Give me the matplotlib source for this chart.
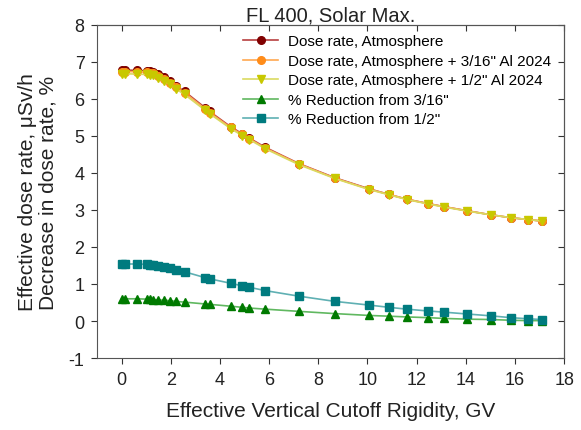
import matplotlib
matplotlib.use("Agg")
import matplotlib.pyplot as plt

plt.rcParams['font.family'] = ['Liberation Sans', 'DejaVu Sans']
plt.rcParams['axes.unicode_minus'] = False

rigidity = [0.0, 0.12, 0.62, 1.04, 1.15, 1.27, 1.5, 1.72, 1.97, 2.2, 2.56, 3.4, 3.58,
            4.43, 4.9, 5.2, 5.85, 7.22, 8.67, 10.07, 10.87, 11.6, 12.48, 13.1, 14.04,
            15.01, 15.84, 16.54, 17.09]
dose_atm = [6.78, 6.78, 6.77, 6.76, 6.75, 6.74, 6.66, 6.58, 6.48, 6.36, 6.20, 5.76, 5.66,
            5.25, 5.06, 4.94, 4.69, 4.25, 3.87, 3.57, 3.42, 3.29, 3.17, 3.09, 2.98,
            2.87, 2.79, 2.74, 2.70]
dose_316 = [6.74, 6.74, 6.73, 6.72, 6.71, 6.70, 6.62, 6.54, 6.44, 6.33, 6.17, 5.73, 5.63,
            5.23, 5.04, 4.92, 4.67, 4.24, 3.86, 3.56, 3.42, 3.29, 3.17, 3.09, 2.98,
            2.87, 2.79, 2.74, 2.70]
dose_12 = [6.68, 6.68, 6.67, 6.66, 6.65, 6.64, 6.56, 6.48, 6.39, 6.27, 6.12, 5.69, 5.60,
           5.20, 5.01, 4.90, 4.65, 4.22, 3.85, 3.55, 3.41, 3.28, 3.16, 3.08, 2.97,
           2.87, 2.79, 2.74, 2.70]
red_316 = [0.60, 0.60, 0.60, 0.59, 0.59, 0.58, 0.57, 0.56, 0.55, 0.53, 0.51, 0.46, 0.45,
           0.40, 0.37, 0.35, 0.32, 0.26, 0.20, 0.15, 0.13, 0.11, 0.09, 0.07, 0.05,
           0.04, 0.02, 0.01, 0.01]
red_12 = [1.54, 1.54, 1.54, 1.53, 1.52, 1.51, 1.48, 1.45, 1.42, 1.38, 1.33, 1.17, 1.14,
          1.02, 0.95, 0.91, 0.82, 0.67, 0.53, 0.43, 0.37, 0.32, 0.27, 0.24, 0.19,
          0.14, 0.09, 0.06, 0.04]

labels = ['Dose rate, Atmosphere',
          'Dose rate, Atmosphere + 3/16" Al 2024',
          'Dose rate, Atmosphere + 1/2" Al 2024',
          '% Reduction from 3/16"',
          '% Reduction from 1/2"']
xticks = list(range(0, 19, 2))
yticks = list(range(-1, 9))

fig = plt.figure(figsize=(5.81, 4.31), dpi=100)
ax = fig.add_axes([0.167, 0.167, 0.804, 0.773])

series = [
    (dose_atm, 'o', '#800000', '#b84040'),
    (dose_316, 'o', '#ff8c1a', '#ffa850'),
    (dose_12, 'v', '#c8c800', '#dada60'),
    (red_316, '^', '#007a00', '#60b860'),
    (red_12, 's', '#007b7f', '#5fb0b3'),
]
for (vals, mk, mc, lc), lab in zip(series, labels):
    ax.plot(rigidity, vals, color=lc, lw=1.2, marker=mk, markersize=5.5,
            markerfacecolor=mc, markeredgecolor=mc, label=lab)

ax.set_xlim(-1, 18)
ax.set_ylim(-1, 8)
ax.set_xticks(xticks)
ax.set_yticks(yticks)
ax.tick_params(direction='out', length=4, labelsize=13, colors='#333333', labelcolor='#222222',
               pad=5)
for s in ax.spines.values():
    s.set_color('#555555')

sx = ax.secondary_xaxis('top')
sx.set_xticks(xticks)
sx.tick_params(direction='in', length=4, labeltop=False, colors='#333333')
sy = ax.secondary_yaxis('right')
sy.set_yticks(yticks)
sy.tick_params(direction='in', length=4, labelright=False, colors='#333333')
sx.spines['top'].set_color('#555555')
sy.spines['right'].set_color('#555555')

ax.set_xlabel('Effective Vertical Cutoff Rigidity, GV', fontsize=15, labelpad=10, color='#222222')
ax.set_ylabel('Effective dose rate, \u03bcSv/h\nDecrease in dose rate, %', fontsize=15,
              labelpad=8, color='#222222', linespacing=1.12)
ax.set_title('FL 400, Solar Max.', fontsize=14.5, pad=3, color='#222222')

ax.legend(loc='upper left', bbox_to_anchor=(0.408, 0.932), bbox_transform=fig.transFigure,
          frameon=False, fontsize=11, handlelength=2.3, labelspacing=0.36,
          handletextpad=0.65, borderaxespad=0)

fig.savefig('out.png', dpi=100)
